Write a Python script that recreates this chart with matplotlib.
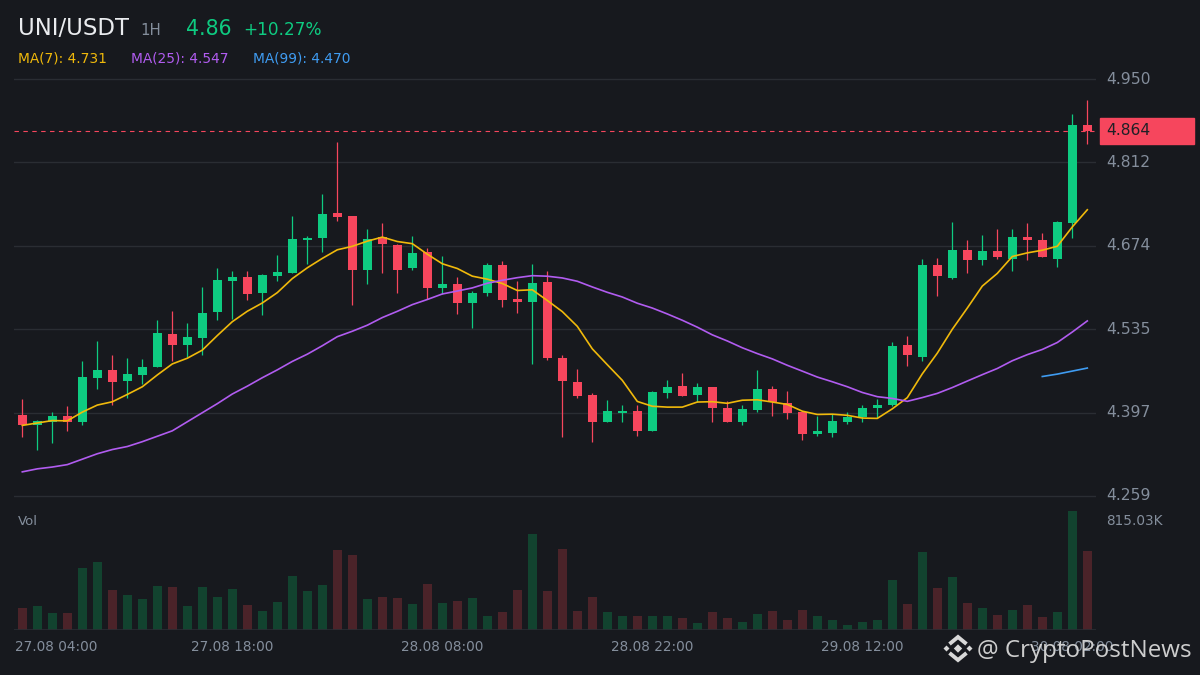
import matplotlib
matplotlib.use("Agg")
import matplotlib.pyplot as plt
import matplotlib.patches as mpatches
from matplotlib.lines import Line2D
import numpy as np
import pandas as pd

# ---- data (UNI/USDT, 1H candles) ----
opens = [4.393, 4.376, 4.382, 4.392, 4.382, 4.455, 4.468, 4.450, 4.460, 4.473,
         4.527, 4.510, 4.521, 4.564, 4.616, 4.622, 4.596, 4.624, 4.629, 4.684,
         4.687, 4.728, 4.723, 4.634, 4.688, 4.675, 4.636, 4.663, 4.604, 4.611,
         4.579, 4.596, 4.642, 4.585, 4.581, 4.614, 4.488, 4.448, 4.426, 4.382,
         4.397, 4.400, 4.367, 4.429, 4.441, 4.427, 4.440, 4.405, 4.381, 4.402,
         4.436, 4.413, 4.399, 4.362, 4.364, 4.382, 4.390, 4.404, 4.410, 4.509,
         4.490, 4.642, 4.621, 4.667, 4.650, 4.665, 4.652, 4.688, 4.683, 4.652,
         4.712, 4.874]
highs = [4.420, 4.385, 4.398, 4.408, 4.483, 4.516, 4.493, 4.488, 4.486, 4.551,
         4.566, 4.546, 4.605, 4.637, 4.632, 4.632, 4.627, 4.658, 4.723, 4.690,
         4.759, 4.846, 4.723, 4.701, 4.711, 4.676, 4.690, 4.670, 4.657, 4.622,
         4.598, 4.645, 4.648, 4.615, 4.643, 4.632, 4.493, 4.469, 4.429, 4.418,
         4.410, 4.410, 4.433, 4.451, 4.463, 4.446, 4.440, 4.416, 4.410, 4.468,
         4.441, 4.433, 4.399, 4.392, 4.395, 4.399, 4.409, 4.419, 4.514, 4.524,
         4.652, 4.653, 4.713, 4.683, 4.691, 4.701, 4.701, 4.711, 4.695, 4.715,
         4.892, 4.915]
lows = [4.357, 4.336, 4.346, 4.366, 4.377, 4.437, 4.409, 4.422, 4.445, 4.472,
        4.482, 4.490, 4.492, 4.551, 4.552, 4.584, 4.559, 4.616, 4.629, 4.644,
        4.664, 4.714, 4.576, 4.611, 4.629, 4.596, 4.634, 4.586, 4.594, 4.561,
        4.538, 4.591, 4.573, 4.563, 4.477, 4.485, 4.356, 4.422, 4.349, 4.381,
        4.382, 4.359, 4.366, 4.422, 4.425, 4.414, 4.382, 4.381, 4.377, 4.399,
        4.392, 4.387, 4.351, 4.359, 4.356, 4.379, 4.382, 4.389, 4.408, 4.475,
        4.483, 4.591, 4.619, 4.629, 4.642, 4.651, 4.632, 4.650, 4.655, 4.639,
        4.687, 4.843]
closes = [4.376, 4.384, 4.392, 4.382, 4.456, 4.468, 4.448, 4.461, 4.473, 4.529,
          4.510, 4.522, 4.562, 4.617, 4.622, 4.594, 4.625, 4.630, 4.685, 4.687,
          4.726, 4.722, 4.634, 4.685, 4.677, 4.634, 4.662, 4.604, 4.611, 4.579,
          4.596, 4.642, 4.584, 4.581, 4.612, 4.487, 4.450, 4.425, 4.381, 4.400,
          4.400, 4.367, 4.431, 4.440, 4.425, 4.440, 4.404, 4.381, 4.403, 4.436,
          4.414, 4.397, 4.362, 4.366, 4.384, 4.390, 4.404, 4.410, 4.508, 4.492,
          4.642, 4.624, 4.667, 4.650, 4.665, 4.655, 4.688, 4.684, 4.655, 4.713,
          4.874, 4.864]
volumes_k = [149, 161, 119, 119, 423, 464, 271, 237, 209, 299,
             292, 161, 292, 223, 278, 168, 133, 195, 368, 264,
             306, 547, 512, 209, 223, 216, 181, 312, 188, 202,
             216, 99, 126, 271, 657, 264, 553, 133, 223, 126,
             99, 99, 99, 99, 85, 50, 126, 85, 57, 112,
             133, 71, 140, 99, 71, 37, 57, 71, 340, 181,
             533, 285, 360, 188, 154, 105, 140, 168, 92, 126,
             815, 540]
# MA(25) before 25 candles are on screen (uses older data)
ma25_head = [4.299, 4.304, 4.307, 4.311, 4.320, 4.329, 4.336, 4.341, 4.349, 4.358,
             4.367, 4.382, 4.397, 4.412, 4.428, 4.441, 4.455, 4.468, 4.482, 4.494,
             4.508, 4.523, 4.532, 4.542]
# MA(99) only shows on the last few candles
ma99_start = 68
ma99_tail = [4.457, 4.461, 4.466, 4.471]

price_ticks = [4.259, 4.397, 4.535, 4.674, 4.812, 4.950]
time_ticks = [0, 14, 28, 42, 56, 70]
time_labels = ["27.08 04:00", "27.08 18:00", "28.08 08:00",
               "28.08 22:00", "29.08 12:00", "30.08 02:00"]
last_price = 4.864
vol_max_label = "815.03K"

# ---- colours ----
BG = "#17191e"
GRID = "#2a2d33"
UP = "#0ecb81"
DOWN = "#f6465d"
VOL_UP = "#12432f"
VOL_DOWN = "#4b2329"
TXT = "#848e9c"
C_MA7 = "#f0b90b"
C_MA25 = "#b15cf0"
C_MA99 = "#3f9cf2"

W, H = 1200, 675
fig = plt.figure(figsize=(12, 6.75), dpi=100, facecolor=BG)

# price pane: pixel rows 70..500, columns 14..1096
PX_PER_UNIT = 417 / (4.950 - 4.259)
ax = fig.add_axes([14 / W, (H - 500) / H, 1082 / W, 430 / H], facecolor=BG)
axv = fig.add_axes([14 / W, (H - 630) / H, 1082 / W, 125 / H], facecolor=BG)

n = len(closes)
x = np.arange(n)
o = np.array(opens); c = np.array(closes)
hi = np.array(highs); lo = np.array(lows)
up = c >= o
cols = np.where(up, UP, DOWN)

xl = ((14 - 22.3) / 15, (1096 - 22.3) / 15)
for a in (ax, axv):
    a.set_xlim(*xl)
    for s in a.spines.values():
        s.set_visible(False)
    a.set_xticks([]); a.set_yticks([])

ax.set_ylim(4.259 - 4 / PX_PER_UNIT, 4.950 + 9 / PX_PER_UNIT)

for t in price_ticks:
    ax.axhline(t, color=GRID, lw=1.0, zorder=0)
    ax.text(1.0092, t, f"{t:.3f}", transform=ax.get_yaxis_transform(),
            color=TXT, fontsize=11.2, va="center", ha="left", clip_on=False)

# candles
ax.vlines(x, lo, hi, colors=cols, lw=0.9, zorder=2)
body_lo = np.minimum(o, c)
body_h = np.maximum(np.abs(c - o), 1.2 / PX_PER_UNIT)
ax.bar(x, body_h, bottom=body_lo, width=0.6, color=cols, lw=0, zorder=3)

# moving averages
s = pd.Series(closes)
ma7 = s.rolling(7, min_periods=1).mean().to_numpy()
ma25 = s.rolling(25).mean().to_numpy()
ma25[:len(ma25_head)] = ma25_head
ax.plot(x, ma7, color=C_MA7, lw=1.2, zorder=4)
ax.plot(x, ma25, color=C_MA25, lw=1.2, zorder=4)
ax.plot(np.arange(ma99_start, ma99_start + len(ma99_tail)), ma99_tail,
        color=C_MA99, lw=1.2, zorder=4)

# last price line + tag
ax.axhline(last_price, color=DOWN, lw=0.8, ls=(0, (4, 4)), zorder=1)
box_h = 26 / PX_PER_UNIT
ax.add_patch(mpatches.Rectangle(((1100 - 14) / 1082, last_price - box_h / 2),
                                94 / 1082, box_h, transform=ax.get_yaxis_transform(),
                                color=DOWN, clip_on=False, zorder=5))
ax.text(1.0092, last_price, f"{last_price:.3f}", transform=ax.get_yaxis_transform(),
        color="#1e2026", fontsize=11.2, va="center", ha="left", clip_on=False, zorder=6)

# volume pane
axv.set_ylim(0, 815.03 * 125 / 119)
vcols = np.where(up, VOL_UP, VOL_DOWN)
axv.bar(x, volumes_k, width=0.6, color=vcols, lw=0)
axv.axhline(0, color=GRID, lw=1.2)
axv.text(0.004, 0.866, "Vol", transform=axv.transAxes, color=TXT, fontsize=9.5,
         va="center", ha="left")
axv.text(1.0092, 0.874, vol_max_label, transform=axv.transAxes, color=TXT,
         fontsize=9.8, va="center", ha="left", clip_on=False)

tr = axv.get_xaxis_transform()
for i, (ti, lab) in enumerate(zip(time_ticks, time_labels)):
    if i == 0:
        axv.text(xl[0] + 0.07, -0.136, lab, transform=tr, color=TXT, fontsize=9.8,
                 ha="left", va="center", clip_on=False)
    else:
        axv.text(ti, -0.136, lab, transform=tr, color=TXT, fontsize=9.8,
                 ha="center", va="center", clip_on=False)

# overlay in pixel coords for header and watermark
ov = fig.add_axes([0, 0, 1, 1], facecolor="none")
ov.set_xlim(0, W); ov.set_ylim(H, 0); ov.axis("off")

ov.text(18, 35, "UNI/USDT", color="#eaecef", fontsize=16.4, va="baseline")
ov.text(140, 35, "1H", color=TXT, fontsize=10.8, va="baseline")
ov.text(186, 35, "4.86", color=UP, fontsize=14.8, va="baseline")
ov.text(243, 35, "+10.27%", color=UP, fontsize=12.2, va="baseline")
ov.text(18, 62.5, "MA(7): 4.731", color=C_MA7, fontsize=9.9, va="baseline")
ov.text(131, 62.5, "MA(25): 4.547", color=C_MA25, fontsize=9.9, va="baseline")
ov.text(253, 62.5, "MA(99): 4.470", color=C_MA99, fontsize=9.9, va="baseline")

# watermark: binance-like logo + handle
WM = "#d8d8d8"
cx, cy = 958, 648.5
def diamond(x0, y0, r):
    return mpatches.Polygon([(x0 - r, y0), (x0, y0 - r), (x0 + r, y0), (x0, y0 + r)],
                            closed=True, color=WM, lw=0)
for px_, py_, r in [(cx, cy, 4.2), (cx - 11.5, cy, 3.0), (cx + 11.5, cy, 3.0)]:
    ov.add_patch(diamond(px_, py_, r))
for sgn in (-1, 1):
    ov.add_line(Line2D([cx - 8.5, cx, cx + 8.5],
                       [cy + sgn * 4.5, cy + sgn * 11.5, cy + sgn * 4.5],
                       color=WM, lw=2.8, solid_joinstyle="miter", solid_capstyle="butt"))
ov.text(977, 657, "@ CryptoPostNews", color=WM, fontsize=17.4, va="baseline",
        family=["Open Sans", "DejaVu Sans"], alpha=0.95)

fig.savefig("out.png", dpi=100, facecolor=BG)
